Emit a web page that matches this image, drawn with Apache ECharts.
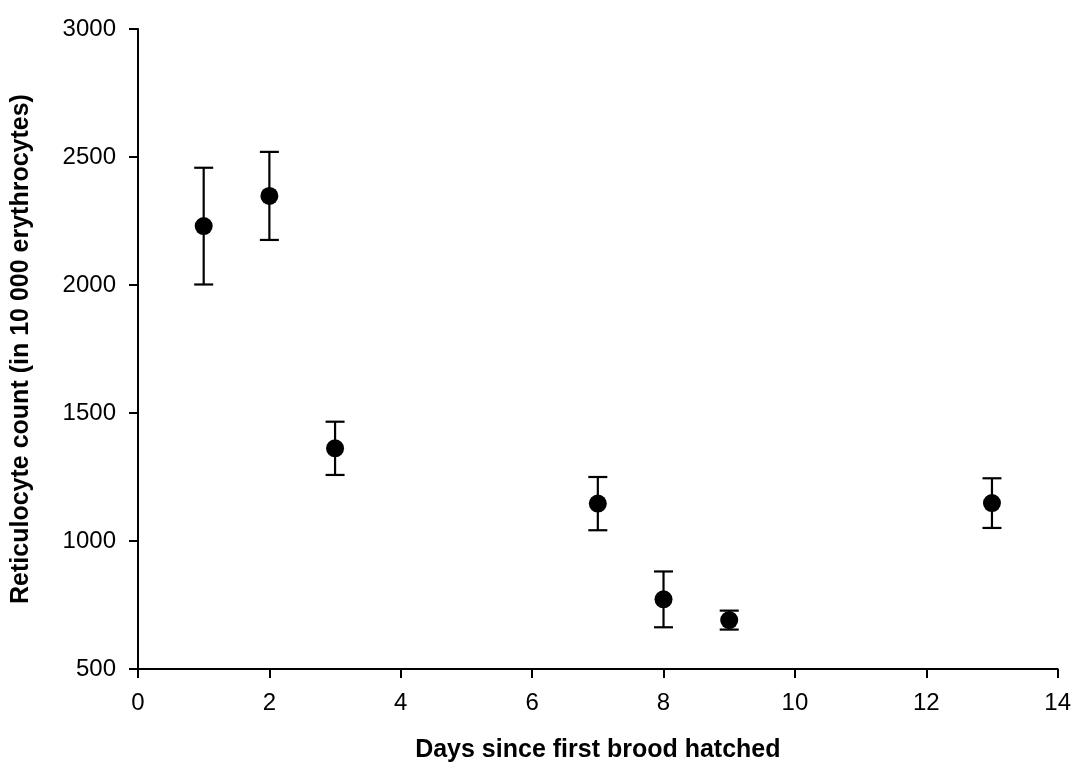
<!DOCTYPE html>
<html>
<head>
<meta charset="utf-8">
<script src="https://cdn.jsdelivr.net/npm/echarts@6/dist/echarts.min.js"></script>
<style>
html,body{margin:0;padding:0;background:#fff;}
#chart{width:1074px;height:768px;}
</style>
</head>
<body>
<div id="chart"></div>
<script>
var days = [1, 2, 3, 7, 8, 9, 13];
var means = [2230, 2348, 1362, 1146, 772, 691, 1148];
var errors = [228, 172, 104, 104, 109, 37, 97];
var xTicks = [0, 2, 4, 6, 8, 10, 12, 14];
var yTicks = [500, 1000, 1500, 2000, 2500, 3000];

var pointData = days.map(function (d, i) { return [d, means[i]]; });
var errData = days.map(function (d, i) { return [d, means[i] - errors[i], means[i] + errors[i]]; });

var chart = echarts.init(document.getElementById('chart'));
var font = 'Liberation Sans, Arial, sans-serif';
chart.setOption({
  animation: false,
  backgroundColor: '#fff',
  grid: { left: 138, right: 16, top: 29, bottom: 99 },
  xAxis: {
    type: 'value', min: xTicks[0], max: xTicks[xTicks.length - 1], interval: xTicks[1] - xTicks[0],
    name: 'Days since first brood hatched', nameLocation: 'middle', nameGap: 69,
    nameTextStyle: { fontFamily: font, fontWeight: 'bold', fontSize: 25, color: '#000' },
    axisLine: { lineStyle: { color: '#000', width: 2 } },
    axisTick: { show: true, inside: false, length: 9, lineStyle: { color: '#000', width: 2 } },
    axisLabel: { fontFamily: font, fontSize: 24, color: '#000', margin: 22, formatter: function (v) { return String(v); } },
    splitLine: { show: false }
  },
  yAxis: {
    type: 'value', min: yTicks[0], max: yTicks[yTicks.length - 1], interval: yTicks[1] - yTicks[0],
    name: 'Reticulocyte count (in 10 000 erythrocytes)', nameLocation: 'middle', nameGap: 104,
    nameTextStyle: { fontFamily: font, fontWeight: 'bold', fontSize: 25, color: '#000' },
    axisLine: { show: true, lineStyle: { color: '#000', width: 2 } },
    axisTick: { show: true, inside: false, length: 9, lineStyle: { color: '#000', width: 2 } },
    axisLabel: { fontFamily: font, fontSize: 24, color: '#000', margin: 22, formatter: function (v) { return String(v); } },
    splitLine: { show: false }
  },
  series: [
    {
      type: 'custom',
      data: errData,
      renderItem: function (params, api) {
        var x = api.value(0);
        var lo = api.coord([x, api.value(1)]);
        var hi = api.coord([x, api.value(2)]);
        var hw = 9.5;
        var st = { stroke: '#000', lineWidth: 2.2 };
        return {
          type: 'group',
          children: [
            { type: 'line', shape: { x1: lo[0], y1: lo[1], x2: hi[0], y2: hi[1] }, style: st },
            { type: 'line', shape: { x1: lo[0] - hw, y1: lo[1], x2: lo[0] + hw, y2: lo[1] }, style: st },
            { type: 'line', shape: { x1: hi[0] - hw, y1: hi[1], x2: hi[0] + hw, y2: hi[1] }, style: st }
          ]
        };
      },
      z: 2
    },
    {
      type: 'scatter',
      data: pointData,
      symbol: 'circle',
      symbolSize: 18,
      itemStyle: { color: '#000', opacity: 1 },
      z: 3
    }
  ]
});
</script>
</body>
</html>
